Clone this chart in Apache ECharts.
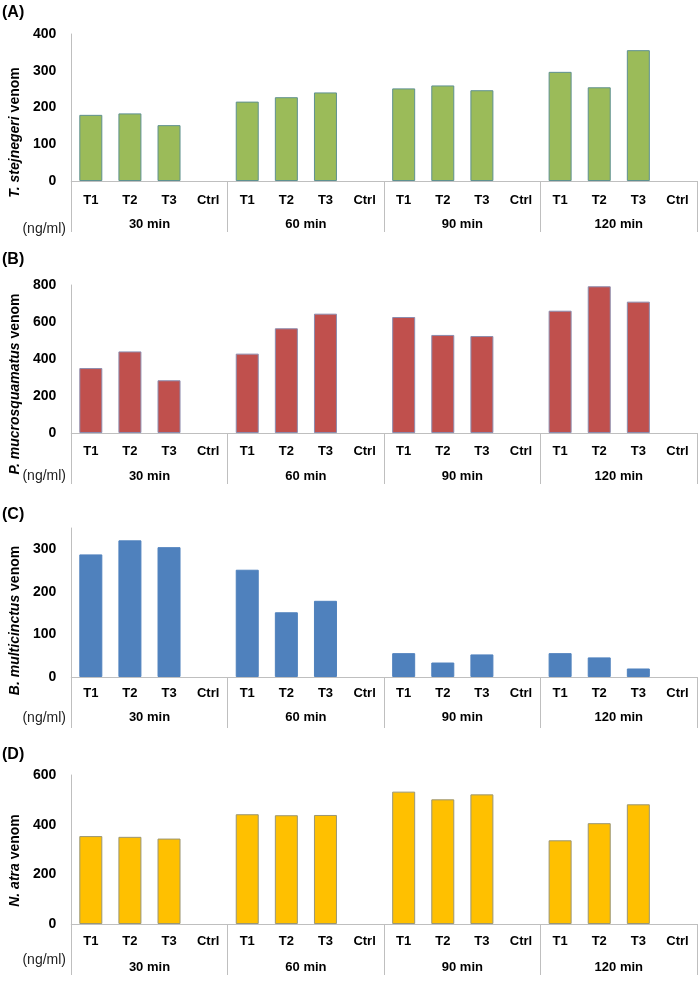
<!DOCTYPE html>
<html>
<head>
<meta charset="utf-8">
<script src="https://cdn.jsdelivr.net/npm/echarts@6/dist/echarts.min.js"></script>
<style>html,body{margin:0;padding:0;background:#fff}#c{width:700px;height:981px}</style>
</head>
<body>
<div id="c"></div>
<script>
// Data
const categories = ['T1','T2','T3','Ctrl','T1','T2','T3','Ctrl','T1','T2','T3','Ctrl','T1','T2','T3','Ctrl'];
const groups = ['30 min','60 min','90 min','120 min'];
const tStejnegeri = [180,184,152,null, 216,228,241,null, 252,260,247,null, 297,255,356,null];
const pMucrosquamatus = [351,441,285,null, 429,566,645,null, 627,530,524,null, 661,793,710,null];
const bMulticinctus = [288,321,305,null, 252,152,179,null, 56,34,53,null, 56,46,20,null];
const nAtra = [354,351,344,null, 442,438,439,null, 533,502,522,null, 337,406,482,null];
const panelLabels = ['(A)','(B)','(C)','(D)'];
const species = ['T. stejnegeri','P. mucrosquamatus','B. multicinctus','N. atra'];
const unitLabel = '(ng/ml)';

const FONT = 'Arial, "Liberation Sans", sans-serif';
const AX = '#bfbfbf';

const panels = [
  {data: tStejnegeri, max: 400, interval: 100, top: 34, zero: 181, tickM: 13, grpM: 37, color: '#9BBB59', border: '#5f9190', namePad: 50, titleY: 13, unitY: 229},
  {data: pMucrosquamatus, max: 800, interval: 200, top: 285, zero: 433, tickM: 12, grpM: 37, color: '#C0504D', border: '#8c8cae', namePad: 50, titleY: 260, unitY: 476},
  {data: bMulticinctus, max: 350, interval: 100, top: 528, zero: 677, tickM: 10, grpM: 34, color: '#4F81BD', border: '#4F81BD', namePad: 36, titleY: 515, unitY: 718},
  {data: nAtra, max: 600, interval: 200, top: 775, zero: 924, tickM: 11, grpM: 37, color: '#FFC000', border: '#9a9674', namePad: 22, titleY: 755, unitY: 960}
];

const grid = [], xAxis = [], yAxis = [], series = [], graphic = [];
panels.forEach((p, i) => {
  grid.push({left: 71, right: 3, top: p.top, height: p.zero - p.top});
  xAxis.push({
    type: 'category', gridIndex: i, position: 'bottom', data: categories,
    axisLine: {show: true, lineStyle: {color: AX, width: 1}},
    axisTick: {show: false},
    axisLabel: {interval: 0, margin: p.tickM, color: '#000', fontWeight: 'bold', fontSize: 13, fontFamily: FONT}
  });
  xAxis.push({
    type: 'category', gridIndex: i, position: 'bottom', data: groups,
    axisLine: {show: false},
    axisTick: {show: true, length: 51, interval: 0, lineStyle: {color: AX, width: 1}},
    axisLabel: {interval: 0, margin: p.grpM, color: '#000', fontWeight: 'bold', fontSize: 13, fontFamily: FONT}
  });
  yAxis.push({
    type: 'value', gridIndex: i, min: 0, max: p.max, interval: p.interval,
    axisLine: {show: true, lineStyle: {color: AX, width: 1}},
    axisTick: {show: false}, splitLine: {show: false},
    axisLabel: {margin: 15, color: '#000', fontWeight: 'bold', fontSize: 14, fontFamily: FONT, showMaxLabel: p.max % p.interval === 0},
    name: '{i|' + species[i] + '}{n| venom}',
    nameLocation: 'middle', nameRotate: 90, nameGap: 46,
    nameTextStyle: {
      padding: [0, p.namePad, 0, 0],
      rich: {
        i: {fontStyle: 'italic', fontWeight: 'bold', fontSize: 14, fontFamily: FONT, color: '#000'},
        n: {fontWeight: 'bold', fontSize: 14, fontFamily: FONT, color: '#000'}
      }
    }
  });
  series.push({
    type: 'bar', xAxisIndex: i * 2, yAxisIndex: i, data: p.data, barWidth: 23,
    itemStyle: {color: p.color, borderColor: p.border, borderWidth: 1}
  });
  graphic.push({type: 'text', x: 2, y: p.titleY, style: {text: panelLabels[i], font: 'bold 16px ' + FONT, fill: '#000', verticalAlign: 'middle'}});
  graphic.push({type: 'text', x: 66, y: p.unitY, style: {text: unitLabel, font: '14px ' + FONT, fill: '#222', align: 'right', verticalAlign: 'middle'}});
});

const chart = echarts.init(document.getElementById('c'), null, {renderer: 'canvas'});
chart.setOption({animation: false, grid, xAxis, yAxis, series, graphic});
</script>
</body>
</html>
